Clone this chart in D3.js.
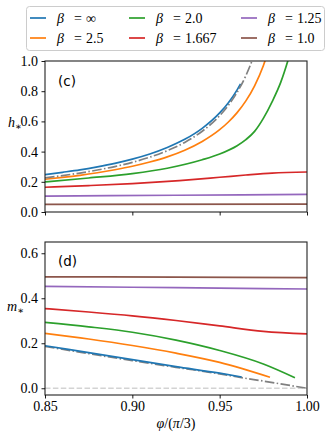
<!DOCTYPE html>
<html>
<head>
<meta charset="utf-8">
<script src="https://d3js.org/d3.v7.min.js"></script>
<style>
  body { margin: 0; background: #fff; }
  .tick text { font-family: 'Liberation Serif', 'DejaVu Serif', serif; font-size: 14px; fill: #000; }
  .tick line { stroke: #000; stroke-width: 0.9; }
</style>
</head>
<body>
<script>

// ---- data ----
var phiTicks = [0.85, 0.90, 0.95, 1.00];
var hTicks = [0.0, 0.2, 0.4, 0.6, 0.8, 1.0];
var mTicks = [0.0, 0.2, 0.4, 0.6];
var betaLabels = ["\u221E", "2.5", "2.0", "1.667", "1.25", "1.0"];

// panel (c): h_*
var hPhiInf = [0.85, 0.86, 0.87, 0.88, 0.89, 0.90, 0.91, 0.92, 0.93, 0.94, 0.95, 0.955, 0.96, 0.962];
var hInf    = [0.248, 0.263, 0.279, 0.299, 0.322, 0.35, 0.384, 0.427, 0.481, 0.554, 0.656, 0.724, 0.809, 0.849];
var hPhi25  = [0.85, 0.86, 0.87, 0.88, 0.89, 0.90, 0.91, 0.92, 0.93, 0.94, 0.95, 0.955, 0.96, 0.965, 0.97, 0.975, 0.978];
var h25     = [0.217, 0.229, 0.243, 0.26, 0.28, 0.303, 0.331, 0.365, 0.409, 0.467, 0.545, 0.596, 0.658, 0.736, 0.836, 0.969, 1.073];
var hPhi20  = [0.85, 0.875, 0.90, 0.92, 0.94, 0.95, 0.96, 0.965, 0.97, 0.975, 0.98, 0.985, 0.989, 0.991];
var h20     = [0.199, 0.225, 0.254, 0.29, 0.346, 0.384, 0.439, 0.479, 0.534, 0.62, 0.73, 0.86, 1.0, 1.08];
var hPhi167 = [0.85, 0.875, 0.90, 0.927, 0.95, 0.965, 0.98, 1.0];
var h167    = [0.164, 0.175, 0.188, 0.208, 0.23, 0.245, 0.258, 0.265];
var hPhi125 = [0.85, 0.925, 1.0];
var h125    = [0.105, 0.111, 0.117];
var hPhi10  = [0.85, 1.0];
var h10     = [0.051, 0.052];
// grey dash-dot reference curve
var hPhiRef = [0.85, 0.86, 0.87, 0.88, 0.89, 0.90, 0.91, 0.92, 0.93, 0.94, 0.95, 0.955, 0.96, 0.965, 0.9683, 0.970];
var hRef    = [0.226, 0.241, 0.258, 0.278, 0.301, 0.329, 0.363, 0.406, 0.461, 0.535, 0.638, 0.707, 0.793, 0.903, 0.995, 1.05];

// panel (d): m_*
var mPhiInf = [0.85, 0.875, 0.90, 0.925, 0.95, 0.9626];
var mInf    = [0.189, 0.158, 0.127, 0.096, 0.067, 0.05];
var mPhi25  = [0.85, 0.875, 0.90, 0.925, 0.95, 0.9788];
var m25     = [0.244, 0.219, 0.190, 0.156, 0.115, 0.049];
var mPhi20  = [0.85, 0.875, 0.90, 0.925, 0.95, 0.975, 0.9931];
var m20     = [0.293, 0.273, 0.249, 0.214, 0.168, 0.108, 0.047];
var mPhi167 = [0.85, 0.875, 0.90, 0.925, 0.95, 0.975, 1.0];
var m167    = [0.354, 0.339, 0.322, 0.301, 0.277, 0.253, 0.242];
var mPhi125 = [0.85, 0.90, 0.95, 1.0];
var m125    = [0.453, 0.449, 0.445, 0.441];
var mPhi10  = [0.85, 0.925, 1.0];
var m10     = [0.495, 0.494, 0.492];
var mPhiRef = [0.85, 0.875, 0.90, 0.925, 0.95, 0.9626, 0.975, 0.9875, 1.0];
var mRef    = [0.186, 0.154, 0.123, 0.093, 0.064, 0.047, 0.032, 0.016, 0.0];
var mPhiZero = [0.85, 1.0];
var mZero    = [0.0, 0.0];

var colors = ["#1f77b4", "#ff7f0e", "#2ca02c", "#d62728", "#9467bd", "#8c564b"];

function zip(xs, ys) {
  return xs.map(function(v, i) { return {phi: v, val: ys[i]}; });
}

var hSeries = [[hPhiInf, hInf], [hPhi25, h25], [hPhi20, h20], [hPhi167, h167], [hPhi125, h125], [hPhi10, h10]];
var mSeries = [[mPhiInf, mInf], [mPhi25, m25], [mPhi20, m20], [mPhi167, m167], [mPhi125, m125], [mPhi10, m10]];

// ---- layout ----
var W = 332, H = 440;
var left = 45, right = 307;
var topC = 61, botC = 212;
var topD = 242, botD = 395;
var serif = "'Liberation Serif', 'DejaVu Serif', serif";

var svg = d3.select("body").append("svg")
    .attr("width", W)
    .attr("height", H);

var x = d3.scaleLinear().domain([0.85, 1.0]).range([left, right]);
var yH = d3.scaleLinear().domain([0, 1]).range([botC, topC]);
var yM = d3.scaleLinear().domain([-0.03, 0.65]).range([botD, topD]);

// clip regions
var defs = svg.append("defs");
defs.append("clipPath").attr("id", "clipC").append("rect")
    .attr("x", left).attr("y", topC).attr("width", right - left).attr("height", botC - topC);
defs.append("clipPath").attr("id", "clipD").append("rect")
    .attr("x", left).attr("y", topD).attr("width", right - left).attr("height", botD - topD);

function drawPanel(yScale, series, ref, clipId, yTop, yBot, extra) {
  var line = d3.line()
      .x(function(d) { return x(d.phi); })
      .y(function(d) { return yScale(d.val); })
      .curve(d3.curveMonotoneX);

  var g = svg.append("g").attr("clip-path", "url(#" + clipId + ")");

  function refPath() {
    g.append("path")
        .datum(ref)
        .attr("fill", "none")
        .attr("stroke", "#808080")
        .attr("stroke-width", 1.7)
        .attr("stroke-dasharray", "9.6,2.4,1.5,2.4")
        .attr("d", line);
  }

  if (extra) {
    g.append("path")
        .datum(extra)
        .attr("fill", "none")
        .attr("stroke", "#d3d3d3")
        .attr("stroke-width", 1.5)
        .attr("stroke-dasharray", "5.5,2.4")
        .attr("d", line);
  }

  // in (d) the grey curve sits below the coloured ones
  if (clipId == "clipD") refPath();

  series.forEach(function(s, i) {
    g.append("path")
        .datum(zip(s[0], s[1]))
        .attr("fill", "none")
        .attr("stroke", colors[i])
        .attr("stroke-width", 1.7)
        .attr("d", line);
  });

  if (clipId == "clipC") refPath();

  // frame
  svg.append("rect")
      .attr("x", left).attr("y", yTop)
      .attr("width", right - left).attr("height", yBot - yTop)
      .attr("fill", "none")
      .attr("stroke", "#222")
      .attr("stroke-width", 1.1);
}

drawPanel(yH, hSeries, zip(hPhiRef, hRef), "clipC", topC, botC, null);
drawPanel(yM, mSeries, zip(mPhiRef, mRef), "clipD", topD, botD, zip(mPhiZero, mZero));

// axes
var gyC = svg.append("g")
    .attr("transform", "translate(" + left + ",0)")
    .call(d3.axisLeft(yH).tickValues(hTicks).tickFormat(d3.format(".1f")).tickSize(3.5).tickPadding(3.5));
var gxC = svg.append("g")
    .attr("transform", "translate(0," + botC + ")")
    .call(d3.axisBottom(x).tickValues(phiTicks).tickFormat("").tickSize(3.5));
var gyD = svg.append("g")
    .attr("transform", "translate(" + left + ",0)")
    .call(d3.axisLeft(yM).tickValues(mTicks).tickFormat(d3.format(".1f")).tickSize(3.5).tickPadding(3.5));
var gxD = svg.append("g")
    .attr("transform", "translate(0," + botD + ")")
    .call(d3.axisBottom(x).tickValues(phiTicks).tickFormat(d3.format(".2f")).tickSize(3.5).tickPadding(3));

[gyC, gxC, gyD, gxD].forEach(function(g) {
  g.select(".domain").remove();
  g.attr("font-family", serif).attr("font-size", 14);
});

// panel tags
svg.append("text")
    .attr("x", 58).attr("y", 86)
    .style("font-family", "'DejaVu Sans', sans-serif")
    .style("font-size", "13.5px")
    .text("(c)");
svg.append("text")
    .attr("x", 58).attr("y", 266)
    .style("font-family", "'DejaVu Sans', sans-serif")
    .style("font-size", "13.5px")
    .text("(d)");

// y labels
function starLabel(xp, yp, letter) {
  var t = svg.append("text")
      .attr("x", xp).attr("y", yp)
      .style("font-family", serif)
      .style("font-size", "14px");
  t.append("tspan").style("font-style", "italic").text(letter);
  t.append("tspan").attr("dy", 3).style("font-size", "10px").text("\u2217");
}
starLabel(8, 127, "h");
starLabel(7, 311, "m");

// x label
var xl = svg.append("text")
    .attr("x", 176).attr("y", 428)
    .attr("text-anchor", "middle")
    .style("font-family", serif)
    .style("font-size", "14px");
xl.append("tspan").style("font-style", "italic").text("\u03C6");
xl.append("tspan").text("/(");
xl.append("tspan").style("font-style", "italic").text("\u03C0");
xl.append("tspan").text("/3)");

// legend
svg.append("rect")
    .attr("x", 26.5).attr("y", 6.5)
    .attr("width", 298).attr("height", 44)
    .attr("rx", 3)
    .attr("fill", "#fff")
    .attr("stroke", "#ccc")
    .attr("stroke-width", 1);

var legCols = [30, 129, 241];
var legRows = [18, 38];

betaLabels.forEach(function(lab, i) {
  var cx = legCols[Math.floor(i / 2)];
  var cy = legRows[i % 2];
  svg.append("line")
      .attr("x1", cx).attr("x2", cx + 16)
      .attr("y1", cy).attr("y2", cy)
      .attr("stroke", colors[i])
      .attr("stroke-width", 1.7);
  var tx = cx + 27, ty = cy + 5;
  var t = svg.append("g")
      .style("font-family", serif)
      .style("font-size", "14px");
  t.append("text").attr("x", tx).attr("y", ty).style("font-style", "italic").text("\u03B2");
  t.append("text").attr("x", tx + 17).attr("y", ty).text("=");
  t.append("text").attr("x", tx + 29).attr("y", ty).text(lab);
});

</script>
</body>
</html>
